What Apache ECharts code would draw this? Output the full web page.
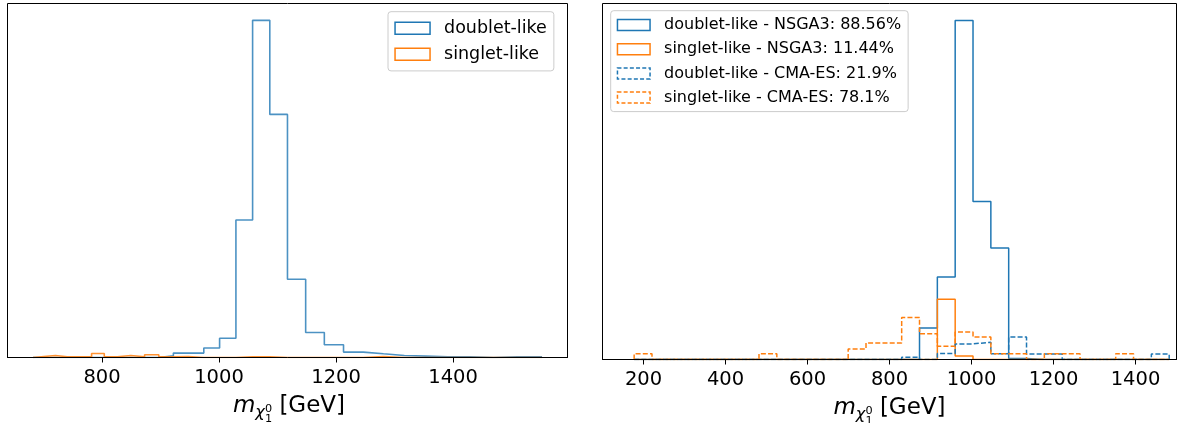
<!DOCTYPE html>
<html>
<head>
<meta charset="utf-8">
<script src="https://cdn.jsdelivr.net/npm/echarts@6/dist/echarts.min.js"></script>
<style>
  html, body { margin: 0; padding: 0; background: #ffffff; }
  #chart { width: 1180px; height: 423px; }
</style>
</head>
<body>
<div id="chart"></div>
<script>
// ---- Left panel: neutralino mass, log-spaced bins (GeV) ----
const leftEdges = [682.0, 701.0, 720.4, 740.5, 761.0, 782.2, 803.9, 826.3, 849.2, 872.8,
  897.1, 922.0, 947.6, 974.0, 1001.0, 1028.9, 1057.4, 1086.8, 1117.0, 1148.1,
  1180.0, 1212.8, 1246.5, 1281.1, 1316.7, 1353.3, 1390.9, 1429.6, 1469.3, 1510.1, 1552.1];
const leftDoublet = [0, 0, 0, 0, 0, 0, 0, 0, 0, 0, 5, 13, 13, 28, 57, 408, 1000, 721, 232, 74,
  38, 16, 11, 6, 4, 2, 2, 0, 2, 2];
const leftSinglet = [3, 6, 2, 2, 2, 12, 2, 6, 2, 8, 2, 3, 0, 0, 0, 2, 2, 0, 0, 0,
  0, 0, 3, 0, 0, 0, 0, 0, 0, 0];
const leftTicks = [800, 1000, 1200, 1400];
const leftNames = ['doublet-like', 'singlet-like'];

// ---- Right panel: NSGA3 vs CMA-ES, linear bins (GeV) ----
const rightEdges = [177.2, 220.7, 264.2, 307.7, 351.2, 394.7, 438.2, 481.7, 525.2, 568.7,
  612.2, 655.7, 699.2, 742.7, 786.2, 829.7, 873.2, 916.7, 960.2, 1003.7,
  1047.2, 1090.7, 1134.2, 1177.7, 1221.2, 1264.7, 1308.2, 1351.7, 1395.2, 1438.7, 1482.2];
const doubletNSGA3 = [0, 0, 0, 0, 0, 0, 0, 0, 0, 0, 0, 0, 0, 0, 0, 0, 93, 243, 1000, 466,
  329, 3, 0, 0, 0, 0, 0, 0, 0, 0];
const singletNSGA3 = [0, 0, 0, 0, 0, 0, 0, 0, 0, 0, 0, 0, 0, 0, 0, 0, 0, 178, 10, 0,
  0, 0, 0, 0, 0, 0, 0, 0, 0, 0];
const doubletCMAES = [0, 0, 0, 0, 0, 0, 0, 0, 0, 0, 0, 0, 0, 0, 0, 7, 0, 18, 46, 51,
  17, 66, 16, 16, 0, 0, 0, 0, 0, 16];
const singletCMAES = [17, 0, 0, 0, 0, 0, 0, 17, 0, 0, 0, 0, 31, 49, 49, 124, 76, 39, 81, 66,
  17, 17, 0, 17, 17, 0, 0, 17, 0, 0];
const rightTicks = [200, 400, 600, 800, 1000, 1200, 1400];
const rightNames = [
  'doublet-like - NSGA3: 88.56%',
  'singlet-like - NSGA3: 11.44%',
  'doublet-like - CMA-ES: 21.9%',
  'singlet-like - CMA-ES: 78.1%'
];

const BLUE = '#1f77b4';
const ORANGE = '#ff7f0e';
const DASH = [5, 2.2];
const FAMILY = '"DejaVu Sans", "Liberation Sans", sans-serif';

// Outline of a step histogram: up the first edge, across each bin, down the last edge
function stepOutline(edges, counts) {
  const pts = [[edges[0], 0]];
  for (let i = 0; i < counts.length; i++) {
    pts.push([edges[i], counts[i]]);
    pts.push([edges[i + 1], counts[i]]);
  }
  pts.push([edges[edges.length - 1], 0]);
  return pts;
}

function histSeries(name, edges, counts, color, dashed, panel, width, opacity) {
  return {
    type: 'line',
    name: name,
    xAxisIndex: panel,
    yAxisIndex: panel,
    data: stepOutline(edges, counts),
    symbol: 'none',
    showSymbol: false,
    silent: true,
    animation: false,
    z: 2,
    lineStyle: { color: color, width: width, type: dashed ? DASH : 'solid', opacity: opacity },
    itemStyle: { color: color }
  };
}

function xAxisFor(panel, min, max, ticks) {
  return {
    gridIndex: panel,
    type: 'value',
    min: min,
    max: max,
    z: 5,
    axisLine: { show: true, onZero: false, lineStyle: { color: '#000', width: 1 } },
    axisTick: { show: true, inside: false, length: 5, customValues: ticks,
      lineStyle: { color: '#000', width: 1 } },
    axisLabel: { customValues: ticks, fontSize: 19.5, fontFamily: FAMILY, color: '#000',
      margin: 10, formatter: (v) => String(v) },
    splitLine: { show: false }
  };
}

function legendFor(names, styles, box) {
  return {
    orient: 'vertical',
    left: box.left,
    top: box.top,
    padding: box.padding,
    itemGap: box.gap,
    itemWidth: box.iconW,
    itemHeight: box.iconH,
    icon: 'rect',
    selectedMode: false,
    backgroundColor: 'rgba(255,255,255,0.8)',
    borderColor: '#cccccc',
    borderWidth: 1,
    borderRadius: 3,
    textStyle: { fontSize: box.font, lineHeight: box.font, fontFamily: FAMILY, color: '#000',
      padding: [0, 0, 0, box.textPad] },
    data: names.map((n, i) => ({
      name: n,
      itemStyle: {
        color: 'rgba(255,255,255,0)',
        borderColor: styles[i].color,
        borderWidth: 1.5,
        borderType: styles[i].dashed ? [4, 2.2] : 'solid'
      }
    }))
  };
}

// Axis title  m_{chi_1^0} [GeV]  built from text pieces
const measureCtx = document.createElement('canvas').getContext('2d');
function textWidth(str, font) { measureCtx.font = font; return measureCtx.measureText(str).width; }
function massLabel(cx, baseline) {
  const big = 23, mid = big * 0.7, small = big * 0.49;
  const fM = 'italic ' + big + 'px ' + FAMILY;
  const fChi = 'italic ' + mid + 'px ' + FAMILY;
  const fIdx = small + 'px ' + FAMILY;
  const fUnit = big + 'px ' + FAMILY;
  const wM = textWidth('m', fM);
  const wChi = textWidth('\u03c7', fChi);
  const wIdx = Math.max(textWidth('1', fIdx), textWidth('0', fIdx));
  const wUnit = textWidth(' [GeV]', fUnit);
  const x0 = cx - (wM + wChi + wIdx + wUnit) / 2;
  // place a piece so that its alphabetic baseline sits at y
  const piece = (str, x, y, size, italic) => ({
    type: 'text',
    silent: true,
    style: {
      text: str, x: x, y: y - 0.297 * size,
      fontSize: size, fontFamily: FAMILY, fontStyle: italic ? 'italic' : 'normal',
      fill: '#000', align: 'left', verticalAlign: 'middle'
    }
  });
  return [
    piece('m', x0, baseline, big, true),
    piece('\u03c7', x0 + wM, baseline + 4.6, mid, true),
    piece('0', x0 + wM + wChi, baseline - 0.8, small, false),
    piece('1', x0 + wM + wChi, baseline + 9.3, small, false),
    piece(' [GeV]', x0 + wM + wChi + wIdx, baseline, big, false)
  ];
}

const chart = echarts.init(document.getElementById('chart'), null, { renderer: 'canvas' });

const option = {
  backgroundColor: '#ffffff',
  animation: false,
  grid: [
    { left: 7.5, top: 3.5, width: 560, height: 354, show: true, borderColor: '#000',
      borderWidth: 1, backgroundColor: 'rgba(0,0,0,0)', containLabel: false },
    { left: 602.5, top: 3.5, width: 574, height: 356, show: true, borderColor: '#000',
      borderWidth: 1, backgroundColor: 'rgba(0,0,0,0)', containLabel: false }
  ],
  xAxis: [
    xAxisFor(0, 638.5, 1595.6, leftTicks),
    xAxisFor(1, 100, 1500, rightTicks)
  ],
  yAxis: [
    { gridIndex: 0, type: 'value', min: 0, max: 1050, show: false },
    { gridIndex: 1, type: 'value', min: 0, max: 1050, show: false }
  ],
  legend: [
    legendFor(leftNames, [{ color: BLUE }, { color: ORANGE }],
      { left: 388, top: 11.7, padding: [7.6, 7, 7.6, 6.3], gap: 8, iconW: 35, iconH: 12,
        font: 17.5, textPad: 9 }),
    legendFor(rightNames,
      [{ color: BLUE }, { color: ORANGE }, { color: BLUE, dashed: true }, { color: ORANGE, dashed: true }],
      { left: 610.7, top: 10.7, padding: [6.3, 7, 6, 6], gap: 8.2, iconW: 32.6, iconH: 11,
        font: 16, textPad: 9 })
  ],
  series: [
    histSeries(leftNames[0], leftEdges, leftDoublet, BLUE, false, 0, 1.6, 0.8),
    histSeries(leftNames[1], leftEdges, leftSinglet, ORANGE, false, 0, 1.6, 0.85),
    histSeries(rightNames[0], rightEdges, doubletNSGA3, BLUE, false, 1, 1.5, 1),
    histSeries(rightNames[1], rightEdges, singletNSGA3, ORANGE, false, 1, 1.5, 1),
    histSeries(rightNames[2], rightEdges, doubletCMAES, BLUE, true, 1, 1.5, 1),
    histSeries(rightNames[3], rightEdges, singletCMAES, ORANGE, true, 1, 1.5, 1)
  ],
  graphic: massLabel(289, 413).concat(massLabel(889.5, 415))
};

chart.setOption(option);
</script>
</body>
</html>
